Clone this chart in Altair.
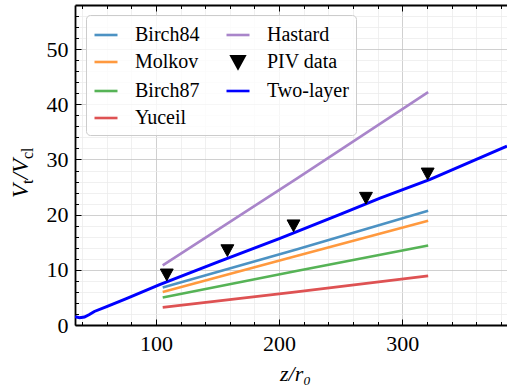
import altair as alt
import pandas as pd

# ---- data -------------------------------------------------------------
# legend order (filled column by column in a 2-column legend) and colours
series_order = ["Birch84", "Molkov", "Birch87", "Yuceil", "Hastard", "PIV data", "Two-layer"]
series_colors = ["#4c92c3", "#ff993e", "#56b356", "#de5253", "#a985ca", "#000000", "#0000ff"]

# empirical models (z/r0 -> Vt/Vcl)
model_z = [105.5, 214.0, 321.0]
birch84 = [6.8, 13.7, 20.7]
molkov = [6.0, 12.5, 18.9]
birch87 = [5.0, 9.8, 14.4]
yuceil = [3.2, 6.0, 8.9]
hastard = [10.8, 26.5, 42.2]

# two-layer model
two_layer_z = [34.3, 38, 42, 46, 50, 60, 76, 103, 150, 200.7, 250, 282, 322.6, 385]
two_layer_v = [1.5, 1.3, 1.45, 1.9, 2.45, 3.35, 4.8, 7.3, 11.4, 15.7, 20.1, 23.0, 26.4, 32.4]

# PIV measurements
piv_z = [108.8, 158.0, 211.7, 270.5, 320.6]
piv_v = [9.1, 13.5, 18.0, 23.0, 27.4]

x_major = [100, 200, 300]
x_minor = [40, 60, 80, 120, 140, 160, 180, 220, 240, 260, 280, 320, 340, 360, 380]
y_major = [0, 10, 20, 30, 40, 50]
y_minor = [v for v in range(2, 58, 2) if v % 10 != 0]

# ---- frames -------------------------------------------------------------
models = [("Birch84", birch84), ("Molkov", molkov), ("Birch87", birch87), ("Yuceil", yuceil)]
model_df = pd.DataFrame(
    [{"z": z, "v": v, "series": name} for name, vals in models for z, v in zip(model_z, vals)]
)
hastard_df = pd.DataFrame({"z": model_z, "v": hastard, "series": "Hastard"})
two_layer_df = pd.DataFrame({"z": two_layer_z, "v": two_layer_v, "series": "Two-layer"})
piv_df = pd.DataFrame({"z": piv_z, "v": piv_v, "series": "PIV data"})

# ---- styling --------------------------------------------------------------
FONT = "Liberation Serif, Times New Roman, serif"
xscale = alt.Scale(domain=[34.3, 385], nice=False, zero=False)
yscale = alt.Scale(domain=[0, 58], nice=False, zero=False)

# line colours (the point series is left out so this scale stays separate from the legend)
line_series = [s for s in series_order if s != "PIV data"]
line_colors = [c for s, c in zip(series_order, series_colors) if s != "PIV data"]
line_color_scale = alt.Scale(domain=line_series, range=line_colors)

LINE_PATH = "M-1,0H1"
TRI_PATH = "M-0.56,-0.5L0.56,-0.5L0,0.52Z"
shape_range = [TRI_PATH if s == "PIV data" else LINE_PATH for s in series_order]
fill_range = ["#000000" if s == "PIV data" else "transparent" for s in series_order]


def tick(n):
    return {"expr": str(-n)}


ax_x_major = alt.Axis(
    orient="bottom", values=x_major, format="d", title="z/r₀",
    titleFont=FONT, titleFontSize=22, titleFontStyle="italic", titleFontWeight="normal",
    titleColor="black", titleY=55, titleX=220, titleBaseline="alphabetic",
    labelFont=FONT, labelFontSize=22, labelColor="black", labelPadding=14,
    tickSize=tick(6), tickColor="black", tickWidth=1,
    domain=True, domainColor="black", domainWidth=1.8,
    grid=True, gridColor="#c4c4c4", gridWidth=0.8,
)
ax_x_minor = alt.Axis(
    orient="bottom", values=x_minor, labels=False, title=None, domain=False,
    tickSize=tick(3.5), tickColor="black", tickWidth=1,
    grid=True, gridColor="#e9e9e9", gridWidth=0.7,
)
ax_x_top_major = alt.Axis(
    orient="top", values=x_major, labels=False, title=None,
    tickSize=tick(6), tickColor="black", tickWidth=1,
    domain=True, domainColor="black", domainWidth=1.8, grid=False,
)
ax_x_top_minor = alt.Axis(
    orient="top", values=x_minor, labels=False, title=None, domain=False,
    tickSize=tick(3.5), tickColor="black", tickWidth=1, grid=False,
)
ax_y_major = alt.Axis(
    orient="left", values=y_major, format="d", title=None,
    labelFont=FONT, labelFontSize=22, labelColor="black", labelPadding=13,
    tickSize=tick(6), tickColor="black", tickWidth=1,
    domain=True, domainColor="black", domainWidth=1.8,
    grid=True, gridColor="#c4c4c4", gridWidth=0.8,
)
ax_y_minor = alt.Axis(
    orient="left", values=y_minor, labels=False, title=None, domain=False,
    tickSize=tick(3.5), tickColor="black", tickWidth=1,
    grid=True, gridColor="#e9e9e9", gridWidth=0.7,
)

legend = alt.Legend(
    title=None, orient="none", legendX=11, legendY=10, columns=2,
    symbolSize=529, symbolStrokeWidth=2.6, symbolOpacity=1,
    labelFont=FONT, labelFontSize=20, labelColor="black", labelOffset=16,
    rowPadding=4, columnPadding=21, padding=7,
    strokeColor="#cccccc", fillColor="rgba(255,255,255,0.8)", cornerRadius=4,
)

# ---- layers -------------------------------------------------------------
model_lines = alt.Chart(model_df).mark_line(strokeWidth=2.6, clip=True).encode(
    x=alt.X("z:Q", scale=xscale, axis=ax_x_major),
    y=alt.Y("v:Q", scale=yscale, axis=ax_y_major),
    color=alt.Color("series:N", scale=line_color_scale, legend=None),
)

hastard_line = alt.Chart(hastard_df).mark_line(strokeWidth=2.6, clip=True).encode(
    x=alt.X("z:Q", scale=xscale, axis=ax_x_minor),
    y=alt.Y("v:Q", scale=yscale, axis=ax_y_minor),
    color=alt.Color("series:N", scale=line_color_scale, legend=None),
)

two_layer_line = alt.Chart(two_layer_df).mark_line(strokeWidth=3, clip=True).encode(
    x=alt.X("z:Q", scale=xscale, axis=ax_x_top_major),
    y=alt.Y("v:Q", scale=yscale, axis=None),
    color=alt.Color("series:N", scale=line_color_scale, legend=None),
)

piv_points = alt.Chart(piv_df).mark_point(size=529, strokeWidth=1, opacity=1).encode(
    x=alt.X("z:Q", scale=xscale, axis=ax_x_top_minor),
    y=alt.Y("v:Q", scale=yscale, axis=None),
    fill=alt.Fill("series:N", scale=alt.Scale(domain=series_order, range=fill_range), legend=legend),
    stroke=alt.Stroke("series:N", scale=alt.Scale(domain=series_order, range=series_colors), legend=legend),
    shape=alt.Shape("series:N", scale=alt.Scale(domain=series_order, range=shape_range), legend=legend),
)

# y-axis title  V_t / V_cl  built from pieces (rotated, reading upward)
one = pd.DataFrame({"k": [0]})


def title_piece(text, x, y, size, italic):
    return alt.Chart(one).mark_text(
        text=text, angle=270, align="left", baseline="alphabetic",
        font=FONT, fontSize=size, fontStyle="italic" if italic else "normal", color="black",
    ).encode(x=alt.value(x), y=alt.value(y))


y_title = [
    title_piece("V", -47, 193, 23, True),
    title_piece("t", -42, 179, 16, False),
    title_piece("/V", -47, 174.5, 23, True),
    title_piece("cl", -42, 154, 16, False),
]

chart = alt.layer(
    model_lines, hastard_line, two_layer_line, piv_points, *y_title
).resolve_axis(
    x="independent", y="independent"
).properties(
    width=432, height=320,
    autosize=alt.AutoSizeParams(type="none"),
    padding={"left": 75, "top": 5, "right": 0, "bottom": 64},
).configure_view(stroke=None)

chart.save("out.html", embed_options={"renderer": "svg", "actions": False})
